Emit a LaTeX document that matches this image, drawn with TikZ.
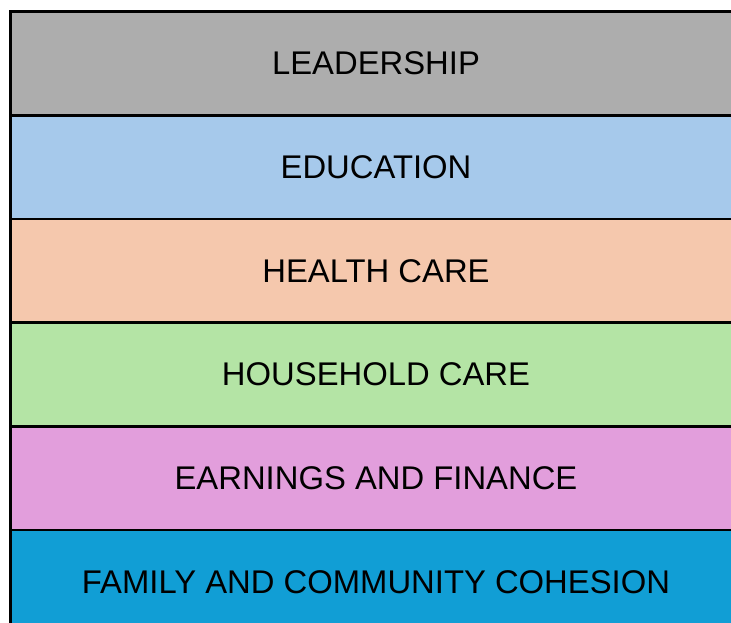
\documentclass[tikz,border=0pt]{standalone}
\usepackage{fontspec}
\setmainfont{Liberation Sans}
\definecolor{cLead}{HTML}{ADADAD}
\definecolor{cEdu}{HTML}{A6C9EB}
\definecolor{cHealth}{HTML}{F5C8AD}
\definecolor{cHouse}{HTML}{B4E4A5}
\definecolor{cEarn}{HTML}{E29EDC}
\definecolor{cFam}{HTML}{119ED5}
\tikzset{
  band/.style={draw=black, line width=2.4pt},
  bandlabel/.style={inner sep=0pt, font=\fontsize{32.8}{38}\selectfont, text=black}
}
\begin{document}
\begin{tikzpicture}[x=1pt,y=-1pt]
\useasboundingbox (0,0) rectangle (731,623);
\clip (0,0) rectangle (731,623);
\fill[white] (0,0) rectangle (731,623);
\draw[band, fill=cLead]   (10.5,11.5)  rectangle (742,115.5);
\draw[band, fill=cEdu]    (10.5,115.5) rectangle (742,219);
\draw[band, fill=cHealth] (10.5,219)   rectangle (742,322.5);
\draw[band, fill=cHouse]  (10.5,322.5) rectangle (742,426.5);
\draw[band, fill=cEarn]   (10.5,426.5) rectangle (742,530);
\draw[band, fill=cFam]    (10.5,530)   rectangle (742,634);
\node[bandlabel] (lead)   at (376,63.5)  {LEADERSHIP};
\node[bandlabel] (edu)    at (376,167.3) {EDUCATION};
\node[bandlabel] (health) at (376,270.8) {HEALTH CARE};
\node[bandlabel] (house)  at (376,374.5) {HOUSEHOLD CARE};
\node[bandlabel] (earn)   at (376,478.3) {EARNINGS AND FINANCE};
\node[bandlabel] (fam)    at (376,582)   {FAMILY AND COMMUNITY COHESION};
\end{tikzpicture}
\end{document}
